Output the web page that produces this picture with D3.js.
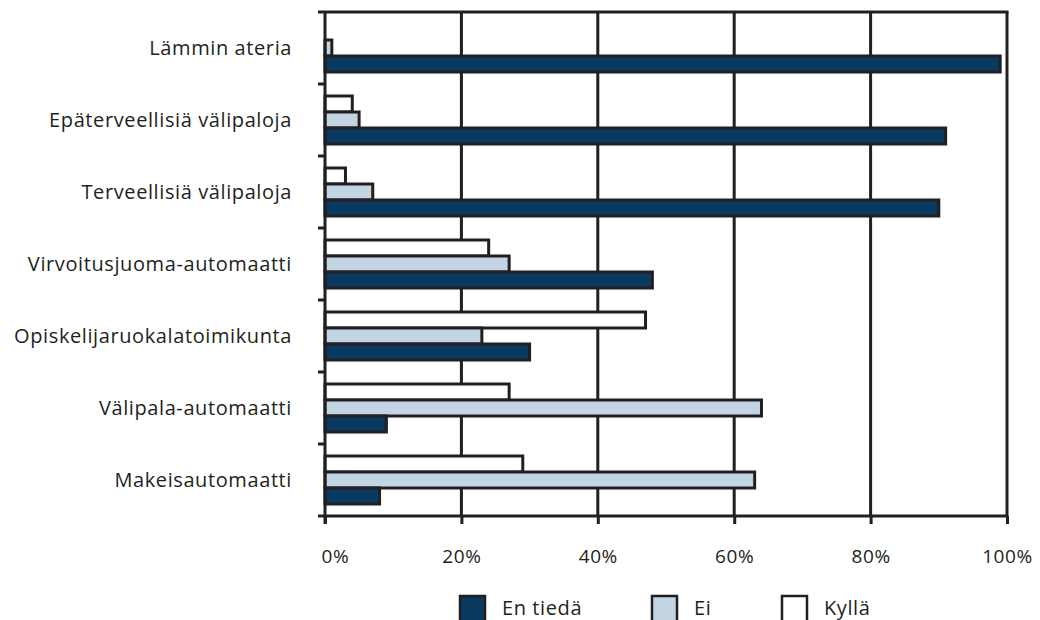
<!DOCTYPE html>
<html>
<head>
<meta charset="utf-8">
<script src="https://cdn.jsdelivr.net/npm/d3@7"></script>
<style>
  html, body { margin: 0; padding: 0; background: #fff; }
  svg { display: block; font-family: "Open Sans", "Noto Sans", sans-serif; }
</style>
</head>
<body>
<svg id="chart" width="1040" height="620"></svg>
<script>
// Survey topics, top to bottom
const categories = [
  "Lämmin ateria",
  "Epäterveellisiä välipaloja",
  "Terveellisiä välipaloja",
  "Virvoitusjuoma-automaatti",
  "Opiskelijaruokalatoimikunta",
  "Välipala-automaatti",
  "Makeisautomaatti"
];

// Answer shares (%) per topic
const kylla    = [0, 4, 3, 24, 47, 27, 29];
const ei       = [1, 5, 7, 27, 23, 64, 63];
const enTieda  = [99, 91, 90, 48, 30, 9, 8];

const seriesNames = ["Kyllä", "Ei", "En tiedä"];
const legendOrder = ["En tiedä", "Ei", "Kyllä"];
const xTicks = [0, 20, 40, 60, 80, 100];

const colors = { "En tiedä": "#0b3a60", "Ei": "#c3d5e3", "Kyllä": "#ffffff" };
const ink = "#231f20";

const seriesValues = { "Kyllä": kylla, "Ei": ei, "En tiedä": enTieda };

const svg = d3.select("#chart");
const margin = { left: 325, right: 33, top: 12, bottom: 104 };
const W = 1040, H = 620;

const x = d3.scaleLinear().domain([0, 100]).range([margin.left, W - margin.right]);
const y = d3.scaleBand().domain(categories).range([margin.top, H - margin.bottom]);
const inner = d3.scaleBand().domain(seriesNames).range([0, y.bandwidth()])
  .paddingInner(0).paddingOuter(0.75);

// Vertical gridlines
svg.append("g")
  .selectAll("line")
  .data(xTicks.slice(1))
  .join("line")
  .attr("x1", d => x(d)).attr("x2", d => x(d))
  .attr("y1", y.range()[0]).attr("y2", y.range()[1])
  .attr("stroke", ink).attr("stroke-width", 3);

// Top border
svg.append("line")
  .attr("x1", x(0) - 7).attr("x2", x(100) + 1.5)
  .attr("y1", y.range()[0]).attr("y2", y.range()[0])
  .attr("stroke", ink).attr("stroke-width", 3);

// Bars
const groups = svg.append("g")
  .selectAll("g")
  .data(categories)
  .join("g")
  .attr("transform", d => `translate(0,${y(d)})`);

groups.selectAll("rect")
  .data((c, i) => seriesNames
    .map(s => ({ s, v: seriesValues[s][i] }))
    .filter(d => d.v > 0))
  .join("rect")
  .attr("x", x(0))
  .attr("y", d => inner(d.s))
  .attr("width", d => x(d.v) - x(0))
  .attr("height", inner.bandwidth())
  .attr("fill", d => colors[d.s])
  .attr("stroke", ink)
  .attr("stroke-width", 3);

// Bottom axis
const xAxis = d3.axisBottom(x)
  .tickValues(xTicks)
  .tickFormat(d => d + "%")
  .tickSizeInner(8).tickSizeOuter(0).tickPadding(26);
const gx = svg.append("g")
  .attr("transform", `translate(0,${y.range()[1]})`)
  .call(xAxis);
gx.select(".domain").attr("stroke", ink).attr("stroke-width", 3)
  .attr("d", `M${x(0) - 7},0H${x(100)}`);
gx.selectAll(".tick line").attr("stroke", ink).attr("stroke-width", 3);
gx.selectAll(".tick text")
  .attr("fill", ink).attr("font-size", 19)
  .attr("letter-spacing", "0.6px")
  .attr("font-family", "'Open Sans', sans-serif")
  .attr("dx", d => d === 0 ? 10 : 0);

// Left axis with boundary ticks
const gy = svg.append("g").attr("transform", `translate(${x(0)},0)`);
gy.append("line")
  .attr("x1", 0).attr("x2", 0)
  .attr("y1", y.range()[0]).attr("y2", y.range()[1] + 8)
  .attr("stroke", ink).attr("stroke-width", 3);
const bounds = categories.map(c => y(c)).concat([y.range()[1]]).slice(1, -1);
gy.selectAll(".bt")
  .data(bounds)
  .join("line")
  .attr("class", "bt")
  .attr("x1", -7).attr("x2", 0)
  .attr("y1", d => d).attr("y2", d => d)
  .attr("stroke", ink).attr("stroke-width", 3);
gy.selectAll("text")
  .data(categories)
  .join("text")
  .attr("x", -33)
  .attr("y", d => y(d) + y.bandwidth() / 2)
  .attr("dy", "0.35em")
  .attr("text-anchor", "end")
  .attr("font-size", 20)
  .attr("letter-spacing", "0.6px")
  .attr("fill", ink)
  .text(d => d);

// Legend
const legendX = [460, 652, 782];
const lg = svg.append("g")
  .selectAll("g")
  .data(legendOrder)
  .join("g")
  .attr("transform", (d, i) => `translate(${legendX[i]},596)`);
lg.append("rect")
  .attr("width", 25).attr("height", 26)
  .attr("fill", d => colors[d])
  .attr("stroke", ink).attr("stroke-width", 2.5);
lg.append("text")
  .attr("x", 42).attr("y", 19)
  .attr("font-size", 20)
  .attr("letter-spacing", "0.6px")
  .attr("fill", ink)
  .text(d => d);
</script>
</body>
</html>
